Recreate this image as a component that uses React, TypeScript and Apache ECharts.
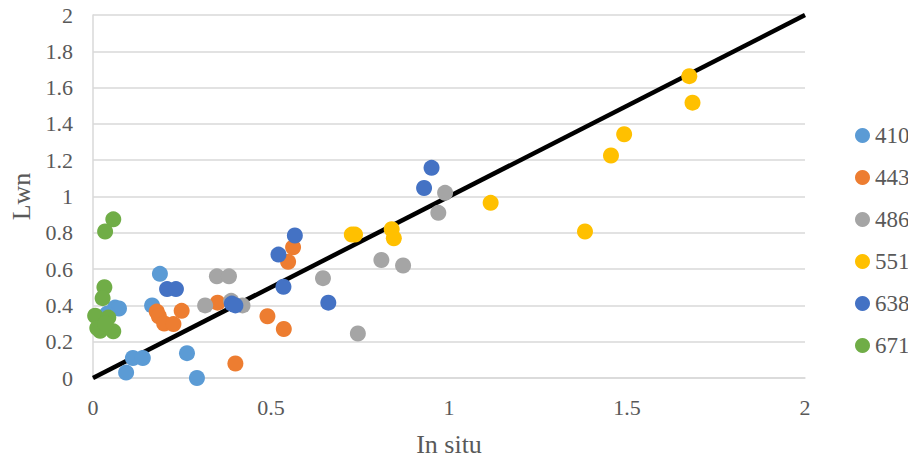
import React, { useEffect, useRef } from "react";
import * as echarts from "echarts";

const seriesNames = ["410", "443", "486", "551", "638", "671"];
const seriesColors = ["#5B9BD5", "#ED7D31", "#A5A5A5", "#FFC000", "#4472C4", "#70AD47"];

const s410: number[][] = [
  [0.188, 0.574], [0.166, 0.40], [0.062, 0.388], [0.073, 0.383], [0.04, 0.355],
  [0.112, 0.11], [0.14, 0.11], [0.093, 0.03], [0.264, 0.137], [0.292, 0.0],
];
const s443: number[][] = [
  [0.179, 0.366], [0.185, 0.34], [0.2, 0.30], [0.226, 0.297], [0.249, 0.37],
  [0.35, 0.415], [0.40, 0.08], [0.49, 0.34], [0.536, 0.27], [0.548, 0.64], [0.562, 0.72],
];
const s486: number[][] = [
  [0.315, 0.40], [0.348, 0.56], [0.382, 0.56], [0.42, 0.40], [0.388, 0.425],
  [0.646, 0.55], [0.744, 0.245], [0.81, 0.65], [0.871, 0.62], [0.97, 0.91], [0.989, 1.02],
];
const s551: number[][] = [
  [0.727, 0.79], [0.736, 0.79], [0.839, 0.82], [0.845, 0.77], [1.117, 0.965],
  [1.382, 0.807], [1.455, 1.226], [1.492, 1.343], [1.675, 1.663], [1.684, 1.517],
];
const s638: number[][] = [
  [0.208, 0.49], [0.233, 0.49], [0.39, 0.41], [0.40, 0.40], [0.521, 0.68],
  [0.567, 0.785], [0.535, 0.503], [0.661, 0.415], [0.93, 1.047], [0.951, 1.158],
];
const s671: number[][] = [
  [0.057, 0.874], [0.034, 0.807], [0.032, 0.50], [0.027, 0.44], [0.006, 0.343],
  [0.043, 0.333], [0.02, 0.26], [0.057, 0.257], [0.012, 0.275], [0.035, 0.30],
];
const seriesData = [s410, s443, s486, s551, s638, s671];
const identityLine: number[][] = [[0, 0], [2, 2]];

const xTicks = { min: 0, max: 2, interval: 0.5 };
const yTicks = { min: 0, max: 2, interval: 0.2 };

const FONT = '"Liberation Serif", "Times New Roman", serif';

export default function App() {
  const ref = useRef<HTMLDivElement>(null);
  useEffect(() => {
    if (!ref.current) return;
    const chart = echarts.init(ref.current, undefined, { renderer: "svg" });
    chart.setOption({
      animation: false,
      backgroundColor: "#ffffff",
      textStyle: { fontFamily: FONT },
      grid: { left: 93, right: 103, top: 15, bottom: 81 },
      legend: {
        data: seriesNames,
        orient: "vertical",
        left: 850,
        top: 119,
        icon: "circle",
        itemWidth: 15,
        itemHeight: 15,
        itemGap: 19,
        textStyle: { fontFamily: FONT, fontSize: 23, color: "#595959" },
      },
      xAxis: {
        type: "value",
        min: xTicks.min,
        max: xTicks.max,
        interval: xTicks.interval,
        name: "In situ",
        nameLocation: "middle",
        nameGap: 53,
        nameTextStyle: { fontFamily: FONT, fontSize: 26, color: "#595959" },
        axisLine: { show: true, lineStyle: { color: "#D9D9D9", width: 1.5 } },
        axisTick: { show: false },
        splitLine: { show: false },
        axisLabel: { fontFamily: FONT, fontSize: 22, color: "#595959", margin: 18 },
      },
      yAxis: {
        type: "value",
        min: yTicks.min,
        max: yTicks.max,
        interval: yTicks.interval,
        name: "Lwn",
        nameLocation: "middle",
        nameGap: 59,
        nameTextStyle: { fontFamily: FONT, fontSize: 26, color: "#595959" },
        axisLine: { show: true, lineStyle: { color: "#D9D9D9", width: 1.5 } },
        axisTick: { show: false },
        splitLine: { show: true, lineStyle: { color: "#D9D9D9", width: 1.5 } },
        axisLabel: { fontFamily: FONT, fontSize: 22, color: "#595959", margin: 20 },
      },
      series: [
        {
          type: "line",
          name: "1:1",
          data: identityLine,
          showSymbol: false,
          symbol: "none",
          lineStyle: { color: "#000000", width: 4.5 },
          z: 1,
          silent: true,
        },
        ...seriesNames.map((n, i) => ({
          type: "scatter",
          name: n,
          data: seriesData[i],
          symbol: "circle",
          symbolSize: 16,
          itemStyle: { color: seriesColors[i], opacity: 1 },
          z: 2,
        })),
      ],
    });
    return () => chart.dispose();
  }, []);
  return <div ref={ref} style={{ width: 908, height: 462, position: "absolute", left: 0, top: 0 }} />;
}
